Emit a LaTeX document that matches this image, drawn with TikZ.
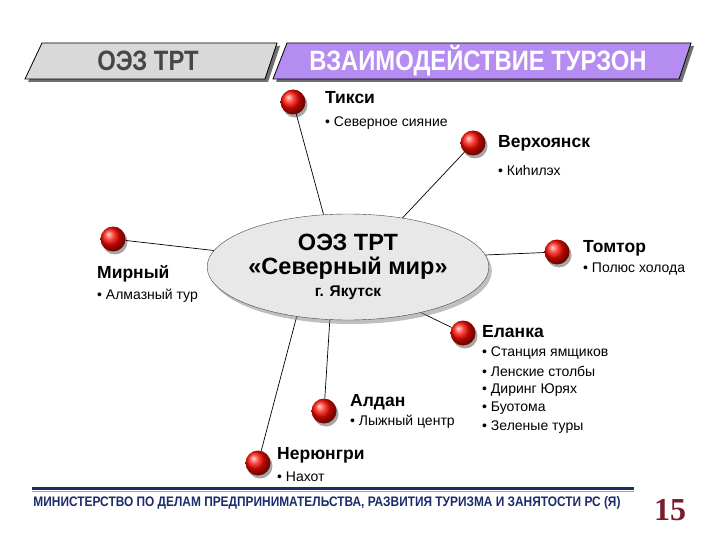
\documentclass[tikz,border=0pt]{standalone}
\usepackage{fontspec}
\usepackage{graphicx}
\setmainfont{Liberation Sans}
\newfontfamily\numfont{Liberation Serif}
\newfontfamily\narrowsans{Liberation Sans}[FakeStretch=0.85]
\usetikzlibrary{shapes.geometric,shadows,backgrounds}
\definecolor{lilac}{HTML}{B48CF2}
\definecolor{navyline}{HTML}{1C2B6A}
\definecolor{paleblue}{HTML}{8FA3C8}
\definecolor{pagered}{HTML}{7A1C2C}
\begin{document}
\begin{tikzpicture}[x=1pt,y=-1pt,
  redball/.style={circle,minimum size=25pt,inner sep=0pt,shade,shading=ball,ball color=red!92!orange,
    drop shadow={shadow xshift=2pt,shadow yshift=-3pt,fill=black,opacity=.35}},
  town/.style={anchor=west,inner sep=0pt,font=\fontsize{17.5}{20}\selectfont\bfseries},
  item/.style={anchor=west,inner sep=0pt,font=\fontsize{14}{16}\selectfont},
  spoke/.style={black,line width=0.7pt},
  banner/.style={draw=black,line width=0.8pt,drop shadow={shadow xshift=3pt,shadow yshift=-3pt,fill=black!70,opacity=.8}},
  headtext/.style={font=\narrowsans\fontsize{28}{28}\selectfont\bfseries}]
\useasboundingbox (0,0) rectangle (720,540);

% header banners
\draw[banner,fill=gray!30] (42,43) -- (277,43) -- (265,79) -- (25,79) -- cycle;
\draw[banner,fill=lilac] (287,43) -- (691,43) -- (679,79) -- (273,79) -- cycle;
\node[headtext,text=gray!55!black] (oezhead) at (148,61) {ОЭЗ ТРТ};
\node[headtext,text=white] (turzon) at (478,61) {ВЗАИМОДЕЙСТВИЕ ТУРЗОН};

% centre
\node[ellipse,draw=gray!55!black,fill=gray!18,minimum width=212pt,minimum height=106pt,inner sep=0pt,
  drop shadow={shadow xshift=3pt,shadow yshift=-4pt,opacity=.5},align=center,
  font=\fontsize{23.5}{24}\selectfont\bfseries] (oez) at (348,267)
  {ОЭЗ ТРТ\\«Северный мир»\\[-2pt]{\fontsize{15.5}{17}\selectfont г. Якутск}};

% towns
\node[redball] (tiksi) at (293,102) {};
\node[redball] (verkh) at (473,143) {};
\node[redball] (tomtor) at (557,252) {};
\node[redball] (elanka) at (463,333) {};
\node[redball] (aldan) at (324,411) {};
\node[redball] (nerung) at (258,463) {};
\node[redball] (mirny) at (113,239) {};

\node[town] (tiksi-t) at (325,98) {Тикси};
\node[item] (tiksi-i) at (325,123) {• Северное сияние};
\node[town] (verkh-t) at (498,143) {Верхоянск};
\node[item] (verkh-i) at (498,170) {• Киһилэх};
\node[town] (tomtor-t) at (583,248) {Томтор};
\node[item] (tomtor-i) at (583,269) {• Полюс холода};
\node[town] (elanka-t) at (482,332) {Еланка};
\foreach \t [count=\k] in {Станция ямщиков,Ленские столбы,Диринг Юрях,Буотома,Зеленые туры}
  \node[item] (elanka-\k) at (482,{334+18.6*\k}) {• \t};
\node[town] (aldan-t) at (350,402) {Алдан};
\node[item] (aldan-i) at (350,422) {• Лыжный центр};
\node[town] (nerung-t) at (277,455) {Нерюнгри};
\node[item] (nerung-i) at (277,477) {• Нахот};
\node[town] (mirny-t) at (97,274) {Мирный};
\node[item] (mirny-i) at (97,296) {• Алмазный тур};

\begin{scope}[on background layer]
\draw[spoke] (tiksi) -- (oez.115);
\draw[spoke] (verkh) -- (oez.42);
\draw[spoke] (tomtor) -- (oez.5);
\draw[spoke] (elanka) -- (oez.-32);
\draw[spoke] (aldan) -- (oez.-109);
\draw[spoke] (nerung) -- (oez.-136);
\draw[spoke] (mirny) -- (oez.173);
\end{scope}

% footer
\draw[navyline,line width=3pt] (32,488) -- (634,488);
\draw[paleblue,line width=0.8pt] (32,491) -- (634,491);
\node[text=navyline,font=\fontsize{13}{13}\selectfont\bfseries] (ministry) at (327,503)
  {\resizebox{587pt}{10pt}{МИНИСТЕРСТВО ПО ДЕЛАМ ПРЕДПРИНИМАТЕЛЬСТВА, РАЗВИТИЯ ТУРИЗМА И ЗАНЯТОСТИ РС (Я)}};
\node[text=pagered,font=\numfont\bfseries\fontsize{32}{32}\selectfont] (pagenum) at (670,510) {15};
\end{tikzpicture}
\end{document}
